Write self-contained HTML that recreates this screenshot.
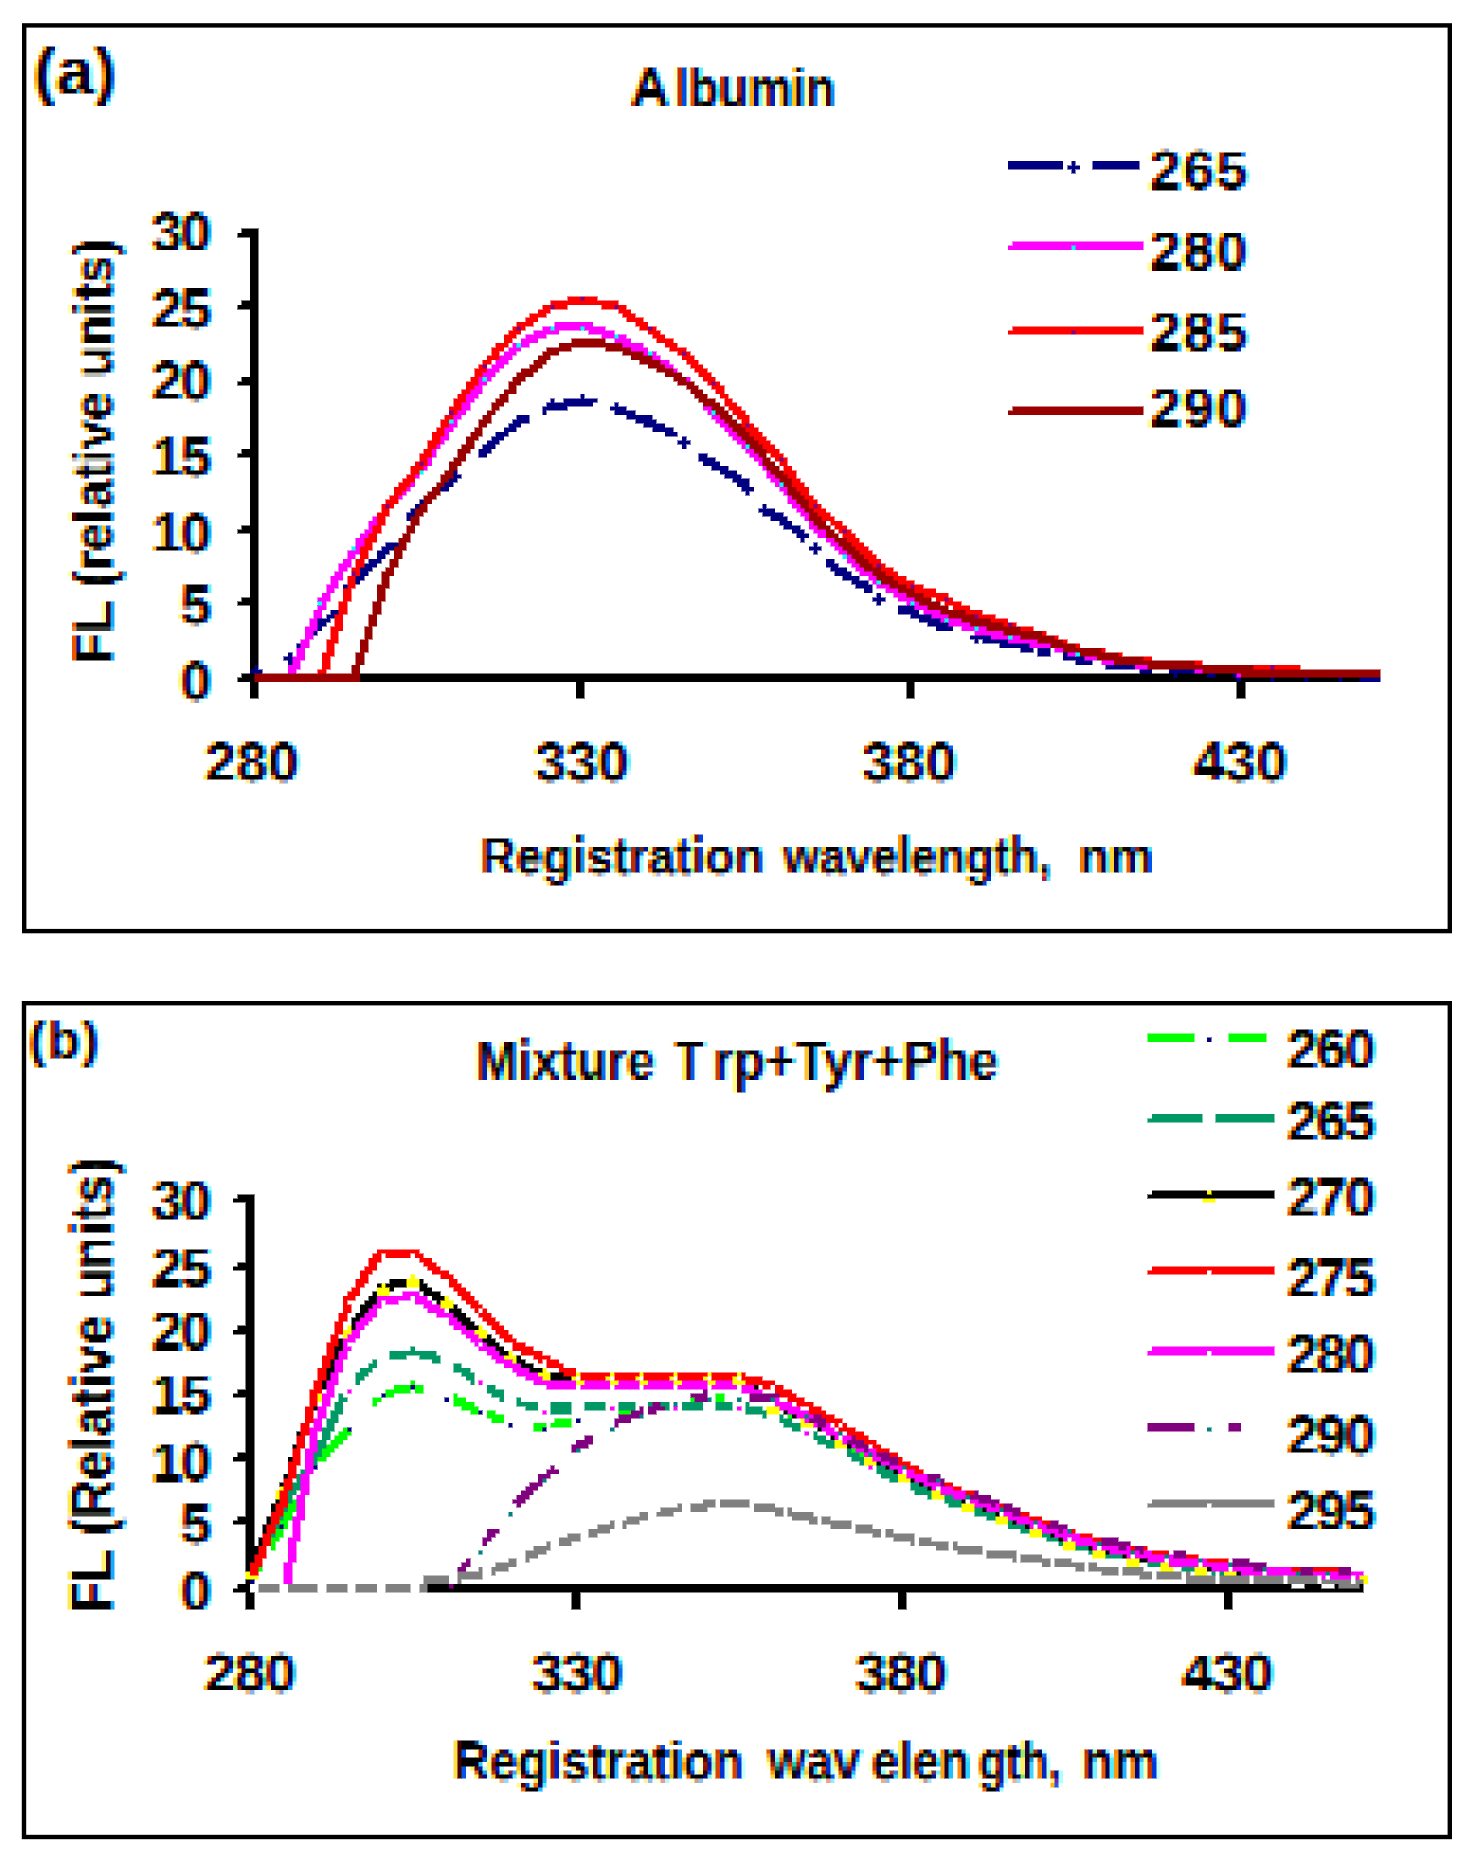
<!DOCTYPE html>
<html><head><meta charset="utf-8"><title>Fluorescence spectra: Albumin and Trp+Tyr+Phe mixture</title>
<style>
html,body{margin:0;padding:0;background:#fff;}
body{width:1475px;height:1865px;overflow:hidden;font-family:"Liberation Sans",sans-serif;}
svg{display:block;}
svg text{font-family:"Liberation Sans",sans-serif;font-weight:bold;}
.gfx polyline{fill:none;stroke-linejoin:round;stroke-linecap:butt;}
.ct{isolation:isolate;}
.ct .m{mix-blend-mode:multiply;}
</style></head>
<body>
<svg width="1475" height="1865" viewBox="0 0 1475 1865">
<defs>
<!-- low-resolution raster look: sample one pixel per 4.2353px cell (17 cells per 72px tile) and grow it to fill the cell -->
<filter id="mosaic" filterUnits="userSpaceOnUse" primitiveUnits="userSpaceOnUse" x="0" y="0" width="1475" height="1865" color-interpolation-filters="sRGB">
<feFlood x="2" y="0" width="1" height="72" flood-color="#000" result="v0"/>
<feFlood x="6" y="0" width="1" height="72" flood-color="#000" result="v1"/>
<feFlood x="10" y="0" width="1" height="72" flood-color="#000" result="v2"/>
<feFlood x="14" y="0" width="1" height="72" flood-color="#000" result="v3"/>
<feFlood x="19" y="0" width="1" height="72" flood-color="#000" result="v4"/>
<feFlood x="23" y="0" width="1" height="72" flood-color="#000" result="v5"/>
<feFlood x="27" y="0" width="1" height="72" flood-color="#000" result="v6"/>
<feFlood x="31" y="0" width="1" height="72" flood-color="#000" result="v7"/>
<feFlood x="36" y="0" width="1" height="72" flood-color="#000" result="v8"/>
<feFlood x="40" y="0" width="1" height="72" flood-color="#000" result="v9"/>
<feFlood x="44" y="0" width="1" height="72" flood-color="#000" result="v10"/>
<feFlood x="48" y="0" width="1" height="72" flood-color="#000" result="v11"/>
<feFlood x="52" y="0" width="1" height="72" flood-color="#000" result="v12"/>
<feFlood x="57" y="0" width="1" height="72" flood-color="#000" result="v13"/>
<feFlood x="61" y="0" width="1" height="72" flood-color="#000" result="v14"/>
<feFlood x="65" y="0" width="1" height="72" flood-color="#000" result="v15"/>
<feFlood x="69" y="0" width="1" height="72" flood-color="#000" result="v16"/>
<feMerge result="sx"><feMergeNode in="v0"/><feMergeNode in="v1"/><feMergeNode in="v2"/><feMergeNode in="v3"/><feMergeNode in="v4"/><feMergeNode in="v5"/><feMergeNode in="v6"/><feMergeNode in="v7"/><feMergeNode in="v8"/><feMergeNode in="v9"/><feMergeNode in="v10"/><feMergeNode in="v11"/><feMergeNode in="v12"/><feMergeNode in="v13"/><feMergeNode in="v14"/><feMergeNode in="v15"/><feMergeNode in="v16"/></feMerge>
<feFlood x="0" y="2" width="72" height="1" flood-color="#000" result="h0"/>
<feFlood x="0" y="6" width="72" height="1" flood-color="#000" result="h1"/>
<feFlood x="0" y="10" width="72" height="1" flood-color="#000" result="h2"/>
<feFlood x="0" y="14" width="72" height="1" flood-color="#000" result="h3"/>
<feFlood x="0" y="19" width="72" height="1" flood-color="#000" result="h4"/>
<feFlood x="0" y="23" width="72" height="1" flood-color="#000" result="h5"/>
<feFlood x="0" y="27" width="72" height="1" flood-color="#000" result="h6"/>
<feFlood x="0" y="31" width="72" height="1" flood-color="#000" result="h7"/>
<feFlood x="0" y="36" width="72" height="1" flood-color="#000" result="h8"/>
<feFlood x="0" y="40" width="72" height="1" flood-color="#000" result="h9"/>
<feFlood x="0" y="44" width="72" height="1" flood-color="#000" result="h10"/>
<feFlood x="0" y="48" width="72" height="1" flood-color="#000" result="h11"/>
<feFlood x="0" y="52" width="72" height="1" flood-color="#000" result="h12"/>
<feFlood x="0" y="57" width="72" height="1" flood-color="#000" result="h13"/>
<feFlood x="0" y="61" width="72" height="1" flood-color="#000" result="h14"/>
<feFlood x="0" y="65" width="72" height="1" flood-color="#000" result="h15"/>
<feFlood x="0" y="69" width="72" height="1" flood-color="#000" result="h16"/>
<feMerge result="sy"><feMergeNode in="h0"/><feMergeNode in="h1"/><feMergeNode in="h2"/><feMergeNode in="h3"/><feMergeNode in="h4"/><feMergeNode in="h5"/><feMergeNode in="h6"/><feMergeNode in="h7"/><feMergeNode in="h8"/><feMergeNode in="h9"/><feMergeNode in="h10"/><feMergeNode in="h11"/><feMergeNode in="h12"/><feMergeNode in="h13"/><feMergeNode in="h14"/><feMergeNode in="h15"/><feMergeNode in="h16"/></feMerge>
<feComposite in="sx" in2="sy" operator="in" x="0" y="0" width="72" height="72" result="dots"/>
<feTile in="dots" result="grid"/>
<feComposite in="SourceGraphic" in2="grid" operator="in" result="samples"/>
<feMorphology in="samples" operator="dilate" radius="2" result="lightWins"/>
<feComponentTransfer in="samples" result="inv"><feFuncR type="table" tableValues="1 0"/><feFuncG type="table" tableValues="1 0"/><feFuncB type="table" tableValues="1 0"/></feComponentTransfer>
<feMorphology in="inv" operator="dilate" radius="2" result="invGrown"/>
<feComponentTransfer in="invGrown" result="darkWins"><feFuncR type="table" tableValues="1 0"/><feFuncG type="table" tableValues="1 0"/><feFuncB type="table" tableValues="1 0"/></feComponentTransfer>
<feComposite in="lightWins" in2="darkWins" operator="arithmetic" k1="0" k2="0.5" k3="0.5" k4="0"/>
</filter>
<filter id="soft" filterUnits="userSpaceOnUse" x="0" y="0" width="1475" height="1865" color-interpolation-filters="sRGB">
<feGaussianBlur stdDeviation="0.9 0.6"/>
</filter>
<g id="labels">
<text x="1149.8" y="189.2" font-size="56" textLength="97.5" lengthAdjust="spacing">265</text>
<text x="1149.8" y="269.5" font-size="56" textLength="97.5" lengthAdjust="spacing">280</text>
<text x="1149.8" y="350.5" font-size="56" textLength="97.5" lengthAdjust="spacing">285</text>
<text x="1149.8" y="427" font-size="56" textLength="97.5" lengthAdjust="spacing">290</text>
<text x="33.5" y="93.8" font-size="67.5" textLength="83" lengthAdjust="spacing">(a)</text>
<text x="630" y="107.2" font-size="55.5">A</text>
<text x="675" y="107.2" font-size="55.5" textLength="160.5" lengthAdjust="spacingAndGlyphs">lbumin</text>
<text x="211.5" y="251.2" font-size="56" text-anchor="end" textLength="60" lengthAdjust="spacing">30</text>
<text x="211.5" y="327.5" font-size="56" text-anchor="end" textLength="60" lengthAdjust="spacing">25</text>
<text x="211.5" y="399.5" font-size="56" text-anchor="end" textLength="60" lengthAdjust="spacing">20</text>
<text x="211.5" y="476.2" font-size="56" text-anchor="end" textLength="60" lengthAdjust="spacing">15</text>
<text x="211.5" y="552" font-size="56" text-anchor="end" textLength="60" lengthAdjust="spacing">10</text>
<text x="211.5" y="623.5" font-size="56" text-anchor="end">5</text>
<text x="211.5" y="700" font-size="56" text-anchor="end">0</text>
<text x="204.9" y="781" font-size="56" textLength="94" lengthAdjust="spacing">280</text>
<text x="535.0" y="781" font-size="56" textLength="94" lengthAdjust="spacing">330</text>
<text x="862.3" y="781" font-size="56" textLength="94" lengthAdjust="spacing">380</text>
<text x="1193.3" y="781" font-size="56" textLength="94" lengthAdjust="spacing">430</text>
<text x="480.5" y="874.3" font-size="52" textLength="283.5" lengthAdjust="spacingAndGlyphs">Registration</text>
<text x="783" y="874.3" font-size="52" textLength="268" lengthAdjust="spacingAndGlyphs">wavelength,</text>
<text x="1079" y="874.3" font-size="52" textLength="74" lengthAdjust="spacingAndGlyphs">nm</text>
<text transform="translate(112.3,663.5) rotate(-90)" font-size="55" textLength="425" lengthAdjust="spacingAndGlyphs">FL (relative units)</text>
<text x="1287" y="1067.8" font-size="56" textLength="88.5" lengthAdjust="spacing">260</text>
<text x="1287" y="1139.5" font-size="56" textLength="88.5" lengthAdjust="spacing">265</text>
<text x="1287" y="1215.8" font-size="56" textLength="88.5" lengthAdjust="spacing">270</text>
<text x="1287" y="1296.7" font-size="56" textLength="88.5" lengthAdjust="spacing">275</text>
<text x="1287" y="1373" font-size="56" textLength="88.5" lengthAdjust="spacing">280</text>
<text x="1287" y="1453.7" font-size="56" textLength="88.5" lengthAdjust="spacing">290</text>
<text x="1287" y="1530" font-size="56" textLength="88.5" lengthAdjust="spacing">295</text>
<text x="28.5" y="1057.6" font-size="53.5" textLength="70.5" lengthAdjust="spacing">(b)</text>
<text x="476" y="1079.3" font-size="55" textLength="178.5" lengthAdjust="spacingAndGlyphs">Mixture</text>
<text x="675" y="1079.3" font-size="55" textLength="29" lengthAdjust="spacingAndGlyphs">T</text>
<text x="713" y="1079.3" font-size="55" textLength="285" lengthAdjust="spacingAndGlyphs">rp+Tyr+Phe</text>
<text x="211.5" y="1220" font-size="56" text-anchor="end" textLength="60" lengthAdjust="spacing">30</text>
<text x="211.5" y="1287.4" font-size="56" text-anchor="end" textLength="60" lengthAdjust="spacing">25</text>
<text x="211.5" y="1350.4" font-size="56" text-anchor="end" textLength="60" lengthAdjust="spacing">20</text>
<text x="211.5" y="1413.4" font-size="56" text-anchor="end" textLength="60" lengthAdjust="spacing">15</text>
<text x="211.5" y="1480.6" font-size="56" text-anchor="end" textLength="60" lengthAdjust="spacing">10</text>
<text x="211.5" y="1543" font-size="56" text-anchor="end">5</text>
<text x="211.5" y="1610.2" font-size="56" text-anchor="end">0</text>
<text x="204.3" y="1691.6" font-size="56" textLength="91.5" lengthAdjust="spacing">280</text>
<text x="531.7" y="1691.6" font-size="56" textLength="91.5" lengthAdjust="spacing">330</text>
<text x="855.6" y="1691.6" font-size="56" textLength="91.5" lengthAdjust="spacing">380</text>
<text x="1182" y="1691.6" font-size="56" textLength="91.5" lengthAdjust="spacing">430</text>
<text x="453.5" y="1780" font-size="55" textLength="290" lengthAdjust="spacingAndGlyphs">Registration</text>
<text x="768" y="1780" font-size="55" textLength="92" lengthAdjust="spacingAndGlyphs">wav</text>
<text x="871.5" y="1780" font-size="55" textLength="98" lengthAdjust="spacingAndGlyphs">elen</text>
<text x="978.5" y="1780" font-size="55" textLength="82.5" lengthAdjust="spacingAndGlyphs">gth,</text>
<text x="1082" y="1780" font-size="55" textLength="76.5" lengthAdjust="spacingAndGlyphs">nm</text>
<text transform="translate(112,1614) rotate(-90)" font-size="60" textLength="457" lengthAdjust="spacingAndGlyphs">FL (Relative units)</text>
</g>
</defs>
<rect x="0" y="0" width="1475" height="1865" fill="#fff"/>
<g filter="url(#mosaic)">
<rect x="0" y="0" width="1475" height="1865" fill="#fff"/>
<g class="gfx" shape-rendering="crispEdges">
<!-- panel a axes -->
<rect x="249.88" y="228.71" width="8.47" height="470.12" fill="#000"/>
<rect x="249.88" y="673.41" width="1126.59" height="8.47" fill="#000"/>
<rect x="237.18" y="228.71" width="12.71" height="8.47" fill="#000"/>
<rect x="237.18" y="228.71" width="4.24" height="4.24" fill="#fff"/>
<rect x="237.18" y="300.71" width="12.71" height="8.47" fill="#000"/>
<rect x="237.18" y="300.71" width="4.24" height="4.24" fill="#fff"/>
<rect x="237.18" y="376.94" width="12.71" height="8.47" fill="#000"/>
<rect x="237.18" y="376.94" width="4.24" height="4.24" fill="#fff"/>
<rect x="237.18" y="448.94" width="12.71" height="8.47" fill="#000"/>
<rect x="237.18" y="448.94" width="4.24" height="4.24" fill="#fff"/>
<rect x="237.18" y="525.18" width="12.71" height="8.47" fill="#000"/>
<rect x="237.18" y="525.18" width="4.24" height="4.24" fill="#fff"/>
<rect x="237.18" y="597.18" width="12.71" height="8.47" fill="#000"/>
<rect x="237.18" y="597.18" width="4.24" height="4.24" fill="#fff"/>
<rect x="237.18" y="673.41" width="12.71" height="8.47" fill="#000"/>
<rect x="237.18" y="673.41" width="4.24" height="4.24" fill="#fff"/>
<rect x="576.00" y="681.88" width="8.47" height="16.94" fill="#000"/>
<rect x="906.35" y="681.88" width="8.47" height="16.94" fill="#000"/>
<rect x="1236.71" y="681.88" width="8.47" height="16.94" fill="#000"/>
<!-- series 265 (a) -->
<polyline points="296.0,650.1 320.0,627.0 332.0,615.0 335.0,610.3" stroke="#000080" stroke-width="8.47"/>
<polyline points="344.4,595.5 348.5,589.0 389.0,548.5 393.2,541.9" stroke="#000080" stroke-width="8.47"/>
<polyline points="408.0,518.6 428.0,501.5" stroke="#000080" stroke-width="8.47"/>
<polyline points="440.7,490.7 454.0,479.3 459.7,473.7" stroke="#000080" stroke-width="8.47"/>
<polyline points="478.6,455.4 519.3,421.0 527.5,417.2" stroke="#000080" stroke-width="8.47"/>
<polyline points="542.4,410.4 552.0,406.0 584.4,402.0 595.3,404.4" stroke="#000080" stroke-width="8.47"/>
<polyline points="619.7,409.9 620.0,410.0 671.5,433.2 675.6,436.2" stroke="#000080" stroke-width="8.47"/>
<polyline points="700.0,455.2 701.4,456.3 744.7,483.4 747.5,487.5" stroke="#000080" stroke-width="8.47"/>
<polyline points="762.4,507.5 763.7,509.2 804.4,536.3 805.8,538.4" stroke="#000080" stroke-width="8.47"/>
<polyline points="824.7,560.7 826.0,562.0 869.5,589.2 872.2,591.6" stroke="#000080" stroke-width="8.47"/>
<polyline points="896.6,606.8 899.3,608.1 942.7,625.8 953.6,629.0" stroke="#000080" stroke-width="8.47"/>
<polyline points="972.5,634.5 975.3,635.3 1010.5,643.4 1035.0,649.3" stroke="#000080" stroke-width="8.47"/>
<polyline points="1040.0,650.5 1046.0,652.0 1051.0,653.0" stroke="#000080" stroke-width="8.47"/>
<polyline points="1062.0,655.2 1081.0,659.0 1092.0,660.9" stroke="#000080" stroke-width="8.47"/>
<polyline points="1108.0,663.6 1116.0,665.0 1146.0,668.0 1150.0,668.2" stroke="#000080" stroke-width="8.47"/>
<polyline points="1173.0,669.5 1211.0,671.5 1215.0,671.8" stroke="#000080" stroke-width="8.47"/>
<polyline points="1240.0,673.7 1244.0,674.0 1290.0,674.5" stroke="#000080" stroke-width="8.47"/>
<polyline points="1315.0,674.8 1379.0,675.5" stroke="#000080" stroke-width="8.47"/>
<rect x="249.88" y="669.18" width="12.71" height="4.24" fill="#000080"/><rect x="254.12" y="664.94" width="4.24" height="12.71" fill="#000080"/>
<rect x="283.76" y="656.47" width="12.71" height="4.24" fill="#000080"/><rect x="288.00" y="652.24" width="4.24" height="12.71" fill="#000080"/>
<rect x="313.41" y="622.59" width="12.71" height="4.24" fill="#000080"/><rect x="317.65" y="618.35" width="4.24" height="12.71" fill="#000080"/>
<rect x="347.29" y="580.24" width="12.71" height="4.24" fill="#000080"/><rect x="351.53" y="576.00" width="4.24" height="12.71" fill="#000080"/>
<rect x="381.18" y="546.35" width="12.71" height="4.24" fill="#000080"/><rect x="385.41" y="542.12" width="4.24" height="12.71" fill="#000080"/>
<rect x="415.06" y="508.24" width="12.71" height="4.24" fill="#000080"/><rect x="419.29" y="504.00" width="4.24" height="12.71" fill="#000080"/>
<rect x="444.71" y="478.59" width="12.71" height="4.24" fill="#000080"/><rect x="448.94" y="474.35" width="4.24" height="12.71" fill="#000080"/>
<rect x="478.59" y="448.94" width="12.71" height="4.24" fill="#000080"/><rect x="482.82" y="444.71" width="4.24" height="12.71" fill="#000080"/>
<rect x="512.47" y="419.29" width="12.71" height="4.24" fill="#000080"/><rect x="516.71" y="415.06" width="4.24" height="12.71" fill="#000080"/>
<rect x="546.35" y="402.35" width="12.71" height="4.24" fill="#000080"/><rect x="550.59" y="398.12" width="4.24" height="12.71" fill="#000080"/>
<rect x="576.00" y="398.12" width="12.71" height="4.24" fill="#000080"/><rect x="580.24" y="393.88" width="4.24" height="12.71" fill="#000080"/>
<rect x="609.88" y="406.59" width="12.71" height="4.24" fill="#000080"/><rect x="614.12" y="402.35" width="4.24" height="12.71" fill="#000080"/>
<rect x="643.76" y="419.29" width="12.71" height="4.24" fill="#000080"/><rect x="648.00" y="415.06" width="4.24" height="12.71" fill="#000080"/>
<rect x="677.65" y="440.47" width="12.71" height="4.24" fill="#000080"/><rect x="681.88" y="436.24" width="4.24" height="12.71" fill="#000080"/>
<rect x="707.29" y="461.65" width="12.71" height="4.24" fill="#000080"/><rect x="711.53" y="457.41" width="4.24" height="12.71" fill="#000080"/>
<rect x="741.18" y="487.06" width="12.71" height="4.24" fill="#000080"/><rect x="745.41" y="482.82" width="4.24" height="12.71" fill="#000080"/>
<rect x="775.06" y="516.71" width="12.71" height="4.24" fill="#000080"/><rect x="779.29" y="512.47" width="4.24" height="12.71" fill="#000080"/>
<rect x="808.94" y="546.35" width="12.71" height="4.24" fill="#000080"/><rect x="813.18" y="542.12" width="4.24" height="12.71" fill="#000080"/>
<rect x="838.59" y="571.76" width="12.71" height="4.24" fill="#000080"/><rect x="842.82" y="567.53" width="4.24" height="12.71" fill="#000080"/>
<rect x="872.47" y="597.18" width="12.71" height="4.24" fill="#000080"/><rect x="876.71" y="592.94" width="4.24" height="12.71" fill="#000080"/>
<rect x="906.35" y="609.88" width="12.71" height="4.24" fill="#000080"/><rect x="910.59" y="605.65" width="4.24" height="12.71" fill="#000080"/>
<rect x="940.24" y="622.59" width="12.71" height="4.24" fill="#000080"/><rect x="944.47" y="618.35" width="4.24" height="12.71" fill="#000080"/>
<rect x="969.88" y="635.29" width="12.71" height="4.24" fill="#000080"/><rect x="974.12" y="631.06" width="4.24" height="12.71" fill="#000080"/>
<rect x="1003.76" y="639.53" width="12.71" height="4.24" fill="#000080"/><rect x="1008.00" y="635.29" width="4.24" height="12.71" fill="#000080"/>
<rect x="1037.65" y="648.00" width="12.71" height="4.24" fill="#000080"/><rect x="1041.88" y="643.76" width="4.24" height="12.71" fill="#000080"/>
<rect x="1071.53" y="656.47" width="12.71" height="4.24" fill="#000080"/><rect x="1075.76" y="652.24" width="4.24" height="12.71" fill="#000080"/>
<rect x="1101.18" y="660.71" width="12.71" height="4.24" fill="#000080"/><rect x="1105.41" y="656.47" width="4.24" height="12.71" fill="#000080"/>
<rect x="1135.06" y="664.94" width="12.71" height="4.24" fill="#000080"/><rect x="1139.29" y="660.71" width="4.24" height="12.71" fill="#000080"/>
<rect x="1168.94" y="669.18" width="12.71" height="4.24" fill="#000080"/><rect x="1173.18" y="664.94" width="4.24" height="12.71" fill="#000080"/>
<rect x="1202.82" y="669.18" width="12.71" height="4.24" fill="#000080"/><rect x="1207.06" y="664.94" width="4.24" height="12.71" fill="#000080"/>
<rect x="1232.47" y="673.41" width="12.71" height="4.24" fill="#000080"/><rect x="1236.71" y="669.18" width="4.24" height="12.71" fill="#000080"/>
<rect x="1266.35" y="673.41" width="12.71" height="4.24" fill="#000080"/><rect x="1270.59" y="669.18" width="4.24" height="12.71" fill="#000080"/>
<rect x="1300.24" y="673.41" width="12.71" height="4.24" fill="#000080"/><rect x="1304.47" y="669.18" width="4.24" height="12.71" fill="#000080"/>
<rect x="1334.12" y="673.41" width="12.71" height="4.24" fill="#000080"/><rect x="1338.35" y="669.18" width="4.24" height="12.71" fill="#000080"/>
<rect x="1363.76" y="673.41" width="12.71" height="4.24" fill="#000080"/><rect x="1368.00" y="669.18" width="4.24" height="12.71" fill="#000080"/>
<!-- series 280 (a) -->
<polyline points="290.2,677.0 321.6,604.2 354.4,550.4 387.2,507.9 420.0,470.8 452.8,423.0 485.6,378.7 518.4,345.9 551.2,329.1 584.0,326.1 616.8,337.3 649.6,354.1 682.4,378.7 715.2,413.2 748.0,446.5 780.8,484.4 813.6,524.7 846.4,555.5 879.2,582.9 912.0,602.3 944.8,618.7 977.6,630.4 1010.4,637.8 1043.2,643.5 1076.0,652.6 1108.8,659.6 1141.6,663.8 1174.4,666.1 1207.2,668.0 1240.0,671.8 1272.8,672.6 1305.6,672.9 1338.4,673.2 1371.2,673.5 1379.7,673.6" stroke="#ff00ff" stroke-width="8.47"/>
<rect x="317.65" y="601.41" width="4.24" height="4.24" fill="#00ffff"/>
<rect x="351.53" y="546.35" width="4.24" height="4.24" fill="#00ffff"/>
<rect x="385.41" y="504.00" width="4.24" height="4.24" fill="#00ffff"/>
<rect x="419.29" y="470.12" width="4.24" height="4.24" fill="#00ffff"/>
<rect x="448.94" y="419.29" width="4.24" height="4.24" fill="#00ffff"/>
<rect x="482.82" y="376.94" width="4.24" height="4.24" fill="#00ffff"/>
<rect x="516.71" y="343.06" width="4.24" height="4.24" fill="#00ffff"/>
<rect x="550.59" y="326.12" width="4.24" height="4.24" fill="#00ffff"/>
<rect x="580.24" y="326.12" width="4.24" height="4.24" fill="#00ffff"/>
<rect x="614.12" y="334.59" width="4.24" height="4.24" fill="#00ffff"/>
<rect x="648.00" y="351.53" width="4.24" height="4.24" fill="#00ffff"/>
<rect x="681.88" y="376.94" width="4.24" height="4.24" fill="#00ffff"/>
<rect x="711.53" y="410.82" width="4.24" height="4.24" fill="#00ffff"/>
<rect x="745.41" y="444.71" width="4.24" height="4.24" fill="#00ffff"/>
<rect x="779.29" y="482.82" width="4.24" height="4.24" fill="#00ffff"/>
<rect x="813.18" y="520.94" width="4.24" height="4.24" fill="#00ffff"/>
<rect x="842.82" y="554.82" width="4.24" height="4.24" fill="#00ffff"/>
<rect x="876.71" y="580.24" width="4.24" height="4.24" fill="#00ffff"/>
<rect x="910.59" y="601.41" width="4.24" height="4.24" fill="#00ffff"/>
<rect x="944.47" y="618.35" width="4.24" height="4.24" fill="#00ffff"/>
<rect x="974.12" y="626.82" width="4.24" height="4.24" fill="#00ffff"/>
<rect x="1008.00" y="635.29" width="4.24" height="4.24" fill="#00ffff"/>
<rect x="1041.88" y="639.53" width="4.24" height="4.24" fill="#00ffff"/>
<rect x="1075.76" y="652.24" width="4.24" height="4.24" fill="#00ffff"/>
<rect x="1105.41" y="656.47" width="4.24" height="4.24" fill="#00ffff"/>
<rect x="1139.29" y="660.71" width="4.24" height="4.24" fill="#00ffff"/>
<rect x="1173.18" y="664.94" width="4.24" height="4.24" fill="#00ffff"/>
<rect x="1207.06" y="664.94" width="4.24" height="4.24" fill="#00ffff"/>
<rect x="1236.71" y="669.18" width="4.24" height="4.24" fill="#00ffff"/>
<rect x="1270.59" y="669.18" width="4.24" height="4.24" fill="#00ffff"/>
<rect x="1304.47" y="669.18" width="4.24" height="4.24" fill="#00ffff"/>
<rect x="1338.35" y="669.18" width="4.24" height="4.24" fill="#00ffff"/>
<rect x="1368.00" y="673.41" width="4.24" height="4.24" fill="#00ffff"/>
<!-- series 285 (a) -->
<polyline points="321.4,677.3 321.6,676.7 354.4,573.4 387.2,507.6 420.0,465.1 452.8,410.9 485.6,364.5 518.4,328.3 551.2,306.7 584.0,299.6 616.8,306.5 649.6,330.0 682.4,352.7 715.2,384.7 748.0,424.6 780.8,460.1 813.6,504.4 846.4,533.6 879.2,566.4 912.0,586.4 944.8,599.2 977.6,615.4 1010.4,626.6 1043.2,636.2 1076.0,648.6 1108.8,656.0 1141.6,662.1 1174.4,664.8 1207.2,667.0 1240.0,671.0 1272.8,668.0 1305.6,672.3 1338.4,672.6 1371.2,672.9 1379.7,673.0" stroke="#ff0000" stroke-width="8.47"/>
<rect x="351.53" y="571.76" width="4.24" height="4.24" fill="#800080"/>
<rect x="385.41" y="504.00" width="4.24" height="4.24" fill="#800080"/>
<rect x="419.29" y="461.65" width="4.24" height="4.24" fill="#800080"/>
<rect x="448.94" y="410.82" width="4.24" height="4.24" fill="#800080"/>
<rect x="482.82" y="364.24" width="4.24" height="4.24" fill="#800080"/>
<rect x="516.71" y="326.12" width="4.24" height="4.24" fill="#800080"/>
<rect x="550.59" y="304.94" width="4.24" height="4.24" fill="#800080"/>
<rect x="580.24" y="296.47" width="4.24" height="4.24" fill="#800080"/>
<rect x="614.12" y="304.94" width="4.24" height="4.24" fill="#800080"/>
<rect x="648.00" y="326.12" width="4.24" height="4.24" fill="#800080"/>
<rect x="681.88" y="351.53" width="4.24" height="4.24" fill="#800080"/>
<rect x="711.53" y="381.18" width="4.24" height="4.24" fill="#800080"/>
<rect x="745.41" y="423.53" width="4.24" height="4.24" fill="#800080"/>
<rect x="779.29" y="457.41" width="4.24" height="4.24" fill="#800080"/>
<rect x="813.18" y="504.00" width="4.24" height="4.24" fill="#800080"/>
<rect x="842.82" y="529.41" width="4.24" height="4.24" fill="#800080"/>
<rect x="876.71" y="563.29" width="4.24" height="4.24" fill="#800080"/>
<rect x="910.59" y="584.47" width="4.24" height="4.24" fill="#800080"/>
<rect x="944.47" y="597.18" width="4.24" height="4.24" fill="#800080"/>
<rect x="974.12" y="614.12" width="4.24" height="4.24" fill="#800080"/>
<rect x="1008.00" y="622.59" width="4.24" height="4.24" fill="#800080"/>
<rect x="1041.88" y="635.29" width="4.24" height="4.24" fill="#800080"/>
<rect x="1075.76" y="648.00" width="4.24" height="4.24" fill="#800080"/>
<rect x="1105.41" y="652.24" width="4.24" height="4.24" fill="#800080"/>
<rect x="1139.29" y="660.71" width="4.24" height="4.24" fill="#800080"/>
<rect x="1173.18" y="660.71" width="4.24" height="4.24" fill="#800080"/>
<rect x="1207.06" y="664.94" width="4.24" height="4.24" fill="#800080"/>
<rect x="1236.71" y="669.18" width="4.24" height="4.24" fill="#800080"/>
<rect x="1270.59" y="664.94" width="4.24" height="4.24" fill="#800080"/>
<rect x="1304.47" y="669.18" width="4.24" height="4.24" fill="#800080"/>
<rect x="1338.35" y="669.18" width="4.24" height="4.24" fill="#800080"/>
<rect x="1368.00" y="669.18" width="4.24" height="4.24" fill="#800080"/>
<!-- series 290 (a) -->
<polyline points="254.7,677.8 353.9,677.8 354.4,676.1 387.2,575.5 420.0,511.5 452.8,469.0 485.6,420.1 518.4,380.1 551.2,352.4 584.0,341.1 616.8,347.2 649.6,361.4 682.4,380.3 715.2,407.2 748.0,438.4 780.8,476.3 813.6,516.2 846.4,547.0 879.2,575.3 912.0,594.1 944.8,610.5 977.6,621.8 1010.4,630.9 1043.2,638.6 1076.0,649.8 1108.8,656.8 1141.6,662.8 1174.4,665.5 1207.2,667.5 1240.0,671.4 1272.8,672.2 1305.6,672.5 1338.4,672.8 1371.2,673.1 1379.7,673.2" stroke="#990000" stroke-width="8.47"/>
<!-- legend (a) -->
<rect x="1008.00" y="160.94" width="55.06" height="8.47" fill="#000080"/>
<rect x="1092.71" y="160.94" width="46.59" height="8.47" fill="#000080"/>
<rect x="1067.29" y="165.18" width="12.71" height="4.24" fill="#000080"/><rect x="1071.53" y="160.94" width="4.24" height="12.71" fill="#000080"/>
<rect x="1008.00" y="241.41" width="135.53" height="8.47" fill="#ff00ff"/>
<rect x="1008.00" y="241.41" width="4.24" height="4.24" fill="#fff"/>
<rect x="1071.53" y="245.65" width="4.24" height="4.24" fill="#00ffff"/>
<rect x="1008.00" y="326.12" width="135.53" height="8.47" fill="#ff0000"/>
<rect x="1008.00" y="326.12" width="4.24" height="4.24" fill="#fff"/>
<rect x="1071.53" y="330.35" width="4.24" height="4.24" fill="#800080"/>
<rect x="1008.00" y="406.59" width="135.53" height="8.47" fill="#990000"/>
<rect x="1008.00" y="406.59" width="4.24" height="4.24" fill="#fff"/>
<!-- panel b axes -->
<rect x="245.65" y="1194.35" width="8.47" height="415.06" fill="#000"/>
<rect x="245.65" y="1584.00" width="1118.12" height="8.47" fill="#000"/>
<rect x="232.94" y="1194.35" width="12.71" height="8.47" fill="#000"/>
<rect x="232.94" y="1194.35" width="4.24" height="4.24" fill="#fff"/>
<rect x="232.94" y="1262.12" width="12.71" height="8.47" fill="#000"/>
<rect x="232.94" y="1262.12" width="4.24" height="4.24" fill="#fff"/>
<rect x="232.94" y="1325.65" width="12.71" height="8.47" fill="#000"/>
<rect x="232.94" y="1325.65" width="4.24" height="4.24" fill="#fff"/>
<rect x="232.94" y="1389.18" width="12.71" height="8.47" fill="#000"/>
<rect x="232.94" y="1389.18" width="4.24" height="4.24" fill="#fff"/>
<rect x="232.94" y="1452.71" width="12.71" height="8.47" fill="#000"/>
<rect x="232.94" y="1452.71" width="4.24" height="4.24" fill="#fff"/>
<rect x="232.94" y="1516.24" width="12.71" height="8.47" fill="#000"/>
<rect x="232.94" y="1516.24" width="4.24" height="4.24" fill="#fff"/>
<rect x="232.94" y="1584.00" width="12.71" height="8.47" fill="#000"/>
<rect x="232.94" y="1584.00" width="4.24" height="4.24" fill="#fff"/>
<rect x="571.76" y="1592.47" width="8.47" height="16.94" fill="#000"/>
<rect x="897.88" y="1592.47" width="8.47" height="16.94" fill="#000"/>
<rect x="1224.00" y="1592.47" width="8.47" height="16.94" fill="#000"/>
<!-- series 260 (b) -->
<polyline points="252.0,1576.6 262.0,1560.0" stroke="#00ff00" stroke-width="8.47"/>
<polyline points="270.0,1546.7 283.1,1525.0 296.0,1501.6" stroke="#00ff00" stroke-width="8.47"/>
<polyline points="318.6,1462.5 348.5,1428.8" stroke="#00ff00" stroke-width="8.47"/>
<polyline points="371.5,1404.9 380.0,1396.1" stroke="#00ff00" stroke-width="8.47"/>
<polyline points="386.4,1393.5 413.9,1386.3 424.4,1389.3" stroke="#00ff00" stroke-width="8.47"/>
<polyline points="452.9,1398.8 478.6,1411.2" stroke="#00ff00" stroke-width="8.47"/>
<polyline points="488.0,1414.7 505.8,1421.2" stroke="#00ff00" stroke-width="8.47"/>
<polyline points="532.9,1425.4 544.7,1426.5 545.0,1426.5" stroke="#00ff00" stroke-width="8.47"/>
<polyline points="551.9,1425.2 573.6,1421.1" stroke="#00ff00" stroke-width="8.47"/>
<polyline points="618.3,1411.3 630.0,1408.7" stroke="#00ff00" stroke-width="8.47"/>
<polyline points="689.0,1399.6 694.0,1399.2" stroke="#00ff00" stroke-width="8.47"/>
<polyline points="712.0,1398.4 726.0,1398.9" stroke="#00ff00" stroke-width="8.47"/>
<polyline points="787.0,1416.9 793.0,1420.5" stroke="#00ff00" stroke-width="8.47"/>
<polyline points="840.0,1446.5 870.0,1461.8" stroke="#00ff00" stroke-width="8.47"/>
<polyline points="905.0,1479.6 935.0,1492.6" stroke="#00ff00" stroke-width="8.47"/>
<polyline points="970.0,1505.4 1000.0,1516.2" stroke="#00ff00" stroke-width="8.47"/>
<polyline points="1035.0,1529.0 1035.2,1529.1 1065.0,1539.1" stroke="#00ff00" stroke-width="8.47"/>
<polyline points="1100.0,1549.6 1100.6,1549.8 1130.0,1556.0" stroke="#00ff00" stroke-width="8.47"/>
<polyline points="1165.0,1562.3 1166.0,1562.5 1195.0,1566.2" stroke="#00ff00" stroke-width="8.47"/>
<polyline points="1230.0,1570.4 1231.4,1570.6 1260.0,1573.8" stroke="#00ff00" stroke-width="8.47"/>
<polyline points="1295.0,1576.3 1296.8,1576.4 1325.0,1577.9" stroke="#00ff00" stroke-width="8.47"/>
<rect x="249.88" y="1579.76" width="4.24" height="4.24" fill="#000080"/>
<rect x="279.53" y="1524.71" width="4.24" height="4.24" fill="#000080"/>
<rect x="313.41" y="1465.41" width="4.24" height="4.24" fill="#000080"/>
<rect x="347.29" y="1427.29" width="4.24" height="4.24" fill="#000080"/>
<rect x="381.18" y="1393.41" width="4.24" height="4.24" fill="#000080"/>
<rect x="410.82" y="1384.94" width="4.24" height="4.24" fill="#000080"/>
<rect x="444.71" y="1397.65" width="4.24" height="4.24" fill="#000080"/>
<rect x="478.59" y="1410.35" width="4.24" height="4.24" fill="#000080"/>
<rect x="508.24" y="1423.06" width="4.24" height="4.24" fill="#000080"/>
<rect x="542.12" y="1427.29" width="4.24" height="4.24" fill="#000080"/>
<rect x="576.00" y="1418.82" width="4.24" height="4.24" fill="#000080"/>
<rect x="609.88" y="1414.59" width="4.24" height="4.24" fill="#000080"/>
<rect x="639.53" y="1406.12" width="4.24" height="4.24" fill="#000080"/>
<rect x="673.41" y="1401.88" width="4.24" height="4.24" fill="#000080"/>
<rect x="707.29" y="1397.65" width="4.24" height="4.24" fill="#000080"/>
<rect x="736.94" y="1397.65" width="4.24" height="4.24" fill="#000080"/>
<rect x="770.82" y="1410.35" width="4.24" height="4.24" fill="#000080"/>
<rect x="804.71" y="1427.29" width="4.24" height="4.24" fill="#000080"/>
<rect x="838.59" y="1444.24" width="4.24" height="4.24" fill="#000080"/>
<rect x="868.24" y="1461.18" width="4.24" height="4.24" fill="#000080"/>
<rect x="902.12" y="1478.12" width="4.24" height="4.24" fill="#000080"/>
<rect x="936.00" y="1495.06" width="4.24" height="4.24" fill="#000080"/>
<rect x="965.65" y="1503.53" width="4.24" height="4.24" fill="#000080"/>
<rect x="999.53" y="1516.24" width="4.24" height="4.24" fill="#000080"/>
<rect x="1033.41" y="1528.94" width="4.24" height="4.24" fill="#000080"/>
<rect x="1067.29" y="1541.65" width="4.24" height="4.24" fill="#000080"/>
<rect x="1096.94" y="1550.12" width="4.24" height="4.24" fill="#000080"/>
<rect x="1130.82" y="1558.59" width="4.24" height="4.24" fill="#000080"/>
<rect x="1164.71" y="1562.82" width="4.24" height="4.24" fill="#000080"/>
<rect x="1198.59" y="1567.06" width="4.24" height="4.24" fill="#000080"/>
<rect x="1228.24" y="1571.29" width="4.24" height="4.24" fill="#000080"/>
<rect x="1262.12" y="1575.53" width="4.24" height="4.24" fill="#000080"/>
<rect x="1296.00" y="1575.53" width="4.24" height="4.24" fill="#000080"/>
<rect x="1325.65" y="1579.76" width="4.24" height="4.24" fill="#000080"/>
<!-- series 265 (b) -->
<polyline points="250.4,1574.1 283.1,1505.9 315.8,1456.3 348.5,1388.5 381.2,1358.1 413.9,1352.0 446.6,1360.6 479.3,1382.8 512.0,1401.5 544.7,1408.5 577.4,1408.5 610.1,1406.9 642.8,1404.4 675.5,1404.4 708.2,1404.4 740.9,1406.3 773.6,1415.9 806.3,1431.3 839.0,1448.9 871.7,1466.0 904.4,1482.9 937.1,1496.7 969.8,1508.0 1002.5,1520.4 1035.2,1531.8 1067.9,1541.9 1100.6,1550.9 1133.3,1557.7 1166.0,1563.5 1198.7,1567.7 1231.4,1571.6 1264.1,1575.2 1296.8,1577.4 1329.5,1579.1 1361.5,1580.0" stroke="#009966" stroke-width="8.47"/>
<rect x="343.06" y="1376.47" width="12.71" height="21.18" fill="#ffffff"/>
<rect x="347.29" y="1389.18" width="4.24" height="4.24" fill="#ff00ff"/>
<rect x="376.94" y="1346.82" width="12.71" height="21.18" fill="#ffffff"/>
<rect x="440.47" y="1351.06" width="12.71" height="21.18" fill="#ffffff"/>
<rect x="474.35" y="1372.24" width="12.71" height="21.18" fill="#ffffff"/>
<rect x="478.59" y="1380.71" width="4.24" height="4.24" fill="#ff00ff"/>
<rect x="504.00" y="1389.18" width="12.71" height="21.18" fill="#ffffff"/>
<rect x="537.88" y="1397.65" width="12.71" height="21.18" fill="#ffffff"/>
<rect x="542.12" y="1410.35" width="4.24" height="4.24" fill="#ff00ff"/>
<rect x="571.76" y="1397.65" width="12.71" height="21.18" fill="#ffffff"/>
<rect x="605.65" y="1397.65" width="12.71" height="21.18" fill="#ffffff"/>
<rect x="609.88" y="1406.12" width="4.24" height="4.24" fill="#ff00ff"/>
<rect x="635.29" y="1393.41" width="12.71" height="21.18" fill="#ffffff"/>
<rect x="669.18" y="1393.41" width="12.71" height="21.18" fill="#ffffff"/>
<rect x="673.41" y="1406.12" width="4.24" height="4.24" fill="#ff00ff"/>
<rect x="703.06" y="1393.41" width="12.71" height="21.18" fill="#ffffff"/>
<rect x="732.71" y="1397.65" width="12.71" height="21.18" fill="#ffffff"/>
<rect x="736.94" y="1406.12" width="4.24" height="4.24" fill="#ff00ff"/>
<rect x="766.59" y="1406.12" width="12.71" height="21.18" fill="#ffffff"/>
<rect x="800.47" y="1418.82" width="12.71" height="21.18" fill="#ffffff"/>
<rect x="804.71" y="1431.53" width="4.24" height="4.24" fill="#ff00ff"/>
<rect x="834.35" y="1440.00" width="12.71" height="21.18" fill="#ffffff"/>
<rect x="864.00" y="1456.94" width="12.71" height="21.18" fill="#ffffff"/>
<rect x="868.24" y="1465.41" width="4.24" height="4.24" fill="#ff00ff"/>
<rect x="897.88" y="1473.88" width="12.71" height="21.18" fill="#ffffff"/>
<rect x="931.76" y="1486.59" width="12.71" height="21.18" fill="#ffffff"/>
<rect x="936.00" y="1495.06" width="4.24" height="4.24" fill="#ff00ff"/>
<rect x="961.41" y="1499.29" width="12.71" height="21.18" fill="#ffffff"/>
<rect x="995.29" y="1507.76" width="12.71" height="21.18" fill="#ffffff"/>
<rect x="999.53" y="1520.47" width="4.24" height="4.24" fill="#ff00ff"/>
<rect x="1029.18" y="1520.47" width="12.71" height="21.18" fill="#ffffff"/>
<rect x="1063.06" y="1533.18" width="12.71" height="21.18" fill="#ffffff"/>
<rect x="1067.29" y="1541.65" width="4.24" height="4.24" fill="#ff00ff"/>
<rect x="1092.71" y="1541.65" width="12.71" height="21.18" fill="#ffffff"/>
<rect x="1126.59" y="1545.88" width="12.71" height="21.18" fill="#ffffff"/>
<rect x="1130.82" y="1558.59" width="4.24" height="4.24" fill="#ff00ff"/>
<rect x="1160.47" y="1554.35" width="12.71" height="21.18" fill="#ffffff"/>
<rect x="1194.35" y="1558.59" width="12.71" height="21.18" fill="#ffffff"/>
<rect x="1198.59" y="1567.06" width="4.24" height="4.24" fill="#ff00ff"/>
<rect x="1224.00" y="1562.82" width="12.71" height="21.18" fill="#ffffff"/>
<rect x="1257.88" y="1562.82" width="12.71" height="21.18" fill="#ffffff"/>
<rect x="1262.12" y="1575.53" width="4.24" height="4.24" fill="#ff00ff"/>
<rect x="1291.76" y="1567.06" width="12.71" height="21.18" fill="#ffffff"/>
<rect x="1321.41" y="1567.06" width="12.71" height="21.18" fill="#ffffff"/>
<rect x="1325.65" y="1579.76" width="4.24" height="4.24" fill="#ff00ff"/>
<!-- series 270 (b) -->
<polyline points="250.4,1572.1 283.1,1491.8 315.8,1395.9 348.5,1333.2 381.2,1287.7 413.9,1281.2 446.6,1304.2 479.3,1332.0 512.0,1358.7 544.7,1374.9 577.4,1381.6 610.1,1382.0 642.8,1382.0 675.5,1382.0 708.2,1382.0 740.9,1382.0 773.6,1402.4 806.3,1418.1 839.0,1437.5 871.7,1455.1 904.4,1472.8 937.1,1487.6 969.8,1500.6 1002.5,1513.4 1035.2,1526.1 1067.9,1537.8 1100.6,1547.6 1133.3,1554.9 1166.0,1561.2 1198.7,1565.3 1231.4,1569.4 1264.1,1573.5 1296.8,1575.7 1329.5,1577.3 1361.5,1578.5" stroke="#000000" stroke-width="8.47"/>
<rect x="249.88" y="1567.06" width="4.24" height="4.24" fill="#ffff00"/><rect x="245.65" y="1571.29" width="12.71" height="4.24" fill="#ffff00"/><rect x="245.65" y="1575.53" width="12.71" height="4.24" fill="#ffff00"/>
<rect x="279.53" y="1486.59" width="4.24" height="4.24" fill="#ffff00"/><rect x="275.29" y="1490.82" width="12.71" height="4.24" fill="#ffff00"/><rect x="275.29" y="1495.06" width="12.71" height="4.24" fill="#ffff00"/>
<rect x="313.41" y="1389.18" width="4.24" height="4.24" fill="#ffff00"/><rect x="309.18" y="1393.41" width="12.71" height="4.24" fill="#ffff00"/><rect x="309.18" y="1397.65" width="12.71" height="4.24" fill="#ffff00"/>
<rect x="347.29" y="1325.65" width="4.24" height="4.24" fill="#ffff00"/><rect x="343.06" y="1329.88" width="12.71" height="4.24" fill="#ffff00"/><rect x="343.06" y="1334.12" width="12.71" height="4.24" fill="#ffff00"/>
<rect x="381.18" y="1283.29" width="4.24" height="4.24" fill="#ffff00"/><rect x="376.94" y="1287.53" width="12.71" height="4.24" fill="#ffff00"/><rect x="376.94" y="1291.76" width="12.71" height="4.24" fill="#ffff00"/>
<rect x="410.82" y="1274.82" width="4.24" height="4.24" fill="#ffff00"/><rect x="406.59" y="1279.06" width="12.71" height="4.24" fill="#ffff00"/><rect x="406.59" y="1283.29" width="12.71" height="4.24" fill="#ffff00"/>
<rect x="444.71" y="1296.00" width="4.24" height="4.24" fill="#ffff00"/><rect x="440.47" y="1300.24" width="12.71" height="4.24" fill="#ffff00"/><rect x="440.47" y="1304.47" width="12.71" height="4.24" fill="#ffff00"/>
<rect x="478.59" y="1325.65" width="4.24" height="4.24" fill="#ffff00"/><rect x="474.35" y="1329.88" width="12.71" height="4.24" fill="#ffff00"/><rect x="474.35" y="1334.12" width="12.71" height="4.24" fill="#ffff00"/>
<rect x="508.24" y="1351.06" width="4.24" height="4.24" fill="#ffff00"/><rect x="504.00" y="1355.29" width="12.71" height="4.24" fill="#ffff00"/><rect x="504.00" y="1359.53" width="12.71" height="4.24" fill="#ffff00"/>
<rect x="542.12" y="1368.00" width="4.24" height="4.24" fill="#ffff00"/><rect x="537.88" y="1372.24" width="12.71" height="4.24" fill="#ffff00"/><rect x="537.88" y="1376.47" width="12.71" height="4.24" fill="#ffff00"/>
<rect x="576.00" y="1376.47" width="4.24" height="4.24" fill="#ffff00"/><rect x="571.76" y="1380.71" width="12.71" height="4.24" fill="#ffff00"/><rect x="571.76" y="1384.94" width="12.71" height="4.24" fill="#ffff00"/>
<rect x="609.88" y="1376.47" width="4.24" height="4.24" fill="#ffff00"/><rect x="605.65" y="1380.71" width="12.71" height="4.24" fill="#ffff00"/><rect x="605.65" y="1384.94" width="12.71" height="4.24" fill="#ffff00"/>
<rect x="639.53" y="1376.47" width="4.24" height="4.24" fill="#ffff00"/><rect x="635.29" y="1380.71" width="12.71" height="4.24" fill="#ffff00"/><rect x="635.29" y="1384.94" width="12.71" height="4.24" fill="#ffff00"/>
<rect x="673.41" y="1376.47" width="4.24" height="4.24" fill="#ffff00"/><rect x="669.18" y="1380.71" width="12.71" height="4.24" fill="#ffff00"/><rect x="669.18" y="1384.94" width="12.71" height="4.24" fill="#ffff00"/>
<rect x="707.29" y="1376.47" width="4.24" height="4.24" fill="#ffff00"/><rect x="703.06" y="1380.71" width="12.71" height="4.24" fill="#ffff00"/><rect x="703.06" y="1384.94" width="12.71" height="4.24" fill="#ffff00"/>
<rect x="736.94" y="1376.47" width="4.24" height="4.24" fill="#ffff00"/><rect x="732.71" y="1380.71" width="12.71" height="4.24" fill="#ffff00"/><rect x="732.71" y="1384.94" width="12.71" height="4.24" fill="#ffff00"/>
<rect x="770.82" y="1401.88" width="4.24" height="4.24" fill="#ffff00"/><rect x="766.59" y="1406.12" width="12.71" height="4.24" fill="#ffff00"/><rect x="766.59" y="1410.35" width="12.71" height="4.24" fill="#ffff00"/>
<rect x="804.71" y="1414.59" width="4.24" height="4.24" fill="#ffff00"/><rect x="800.47" y="1418.82" width="12.71" height="4.24" fill="#ffff00"/><rect x="800.47" y="1423.06" width="12.71" height="4.24" fill="#ffff00"/>
<rect x="838.59" y="1435.76" width="4.24" height="4.24" fill="#ffff00"/><rect x="834.35" y="1440.00" width="12.71" height="4.24" fill="#ffff00"/><rect x="834.35" y="1444.24" width="12.71" height="4.24" fill="#ffff00"/>
<rect x="868.24" y="1452.71" width="4.24" height="4.24" fill="#ffff00"/><rect x="864.00" y="1456.94" width="12.71" height="4.24" fill="#ffff00"/><rect x="864.00" y="1461.18" width="12.71" height="4.24" fill="#ffff00"/>
<rect x="902.12" y="1469.65" width="4.24" height="4.24" fill="#ffff00"/><rect x="897.88" y="1473.88" width="12.71" height="4.24" fill="#ffff00"/><rect x="897.88" y="1478.12" width="12.71" height="4.24" fill="#ffff00"/>
<rect x="936.00" y="1486.59" width="4.24" height="4.24" fill="#ffff00"/><rect x="931.76" y="1490.82" width="12.71" height="4.24" fill="#ffff00"/><rect x="931.76" y="1495.06" width="12.71" height="4.24" fill="#ffff00"/>
<rect x="965.65" y="1499.29" width="4.24" height="4.24" fill="#ffff00"/><rect x="961.41" y="1503.53" width="12.71" height="4.24" fill="#ffff00"/><rect x="961.41" y="1507.76" width="12.71" height="4.24" fill="#ffff00"/>
<rect x="999.53" y="1512.00" width="4.24" height="4.24" fill="#ffff00"/><rect x="995.29" y="1516.24" width="12.71" height="4.24" fill="#ffff00"/><rect x="995.29" y="1520.47" width="12.71" height="4.24" fill="#ffff00"/>
<rect x="1033.41" y="1524.71" width="4.24" height="4.24" fill="#ffff00"/><rect x="1029.18" y="1528.94" width="12.71" height="4.24" fill="#ffff00"/><rect x="1029.18" y="1533.18" width="12.71" height="4.24" fill="#ffff00"/>
<rect x="1067.29" y="1537.41" width="4.24" height="4.24" fill="#ffff00"/><rect x="1063.06" y="1541.65" width="12.71" height="4.24" fill="#ffff00"/><rect x="1063.06" y="1545.88" width="12.71" height="4.24" fill="#ffff00"/>
<rect x="1096.94" y="1545.88" width="4.24" height="4.24" fill="#ffff00"/><rect x="1092.71" y="1550.12" width="12.71" height="4.24" fill="#ffff00"/><rect x="1092.71" y="1554.35" width="12.71" height="4.24" fill="#ffff00"/>
<rect x="1130.82" y="1554.35" width="4.24" height="4.24" fill="#ffff00"/><rect x="1126.59" y="1558.59" width="12.71" height="4.24" fill="#ffff00"/><rect x="1126.59" y="1562.82" width="12.71" height="4.24" fill="#ffff00"/>
<rect x="1164.71" y="1558.59" width="4.24" height="4.24" fill="#ffff00"/><rect x="1160.47" y="1562.82" width="12.71" height="4.24" fill="#ffff00"/><rect x="1160.47" y="1567.06" width="12.71" height="4.24" fill="#ffff00"/>
<rect x="1198.59" y="1562.82" width="4.24" height="4.24" fill="#ffff00"/><rect x="1194.35" y="1567.06" width="12.71" height="4.24" fill="#ffff00"/><rect x="1194.35" y="1571.29" width="12.71" height="4.24" fill="#ffff00"/>
<rect x="1228.24" y="1567.06" width="4.24" height="4.24" fill="#ffff00"/><rect x="1224.00" y="1571.29" width="12.71" height="4.24" fill="#ffff00"/><rect x="1224.00" y="1575.53" width="12.71" height="4.24" fill="#ffff00"/>
<rect x="1262.12" y="1567.06" width="4.24" height="4.24" fill="#ffff00"/><rect x="1257.88" y="1571.29" width="12.71" height="4.24" fill="#ffff00"/><rect x="1257.88" y="1575.53" width="12.71" height="4.24" fill="#ffff00"/>
<rect x="1296.00" y="1571.29" width="4.24" height="4.24" fill="#ffff00"/><rect x="1291.76" y="1575.53" width="12.71" height="4.24" fill="#ffff00"/><rect x="1291.76" y="1579.76" width="12.71" height="4.24" fill="#ffff00"/>
<rect x="1325.65" y="1571.29" width="4.24" height="4.24" fill="#ffff00"/><rect x="1321.41" y="1575.53" width="12.71" height="4.24" fill="#ffff00"/><rect x="1321.41" y="1579.76" width="12.71" height="4.24" fill="#ffff00"/>
<rect x="1359.53" y="1571.29" width="4.24" height="4.24" fill="#ffff00"/><rect x="1355.29" y="1575.53" width="12.71" height="4.24" fill="#ffff00"/><rect x="1355.29" y="1579.76" width="12.71" height="4.24" fill="#ffff00"/>
<!-- series 275 (b) -->
<polyline points="252.2,1575.3 283.1,1500.3 315.8,1391.7 348.5,1301.2 381.2,1252.0 413.9,1251.8 446.6,1277.4 479.3,1310.2 512.0,1343.6 544.7,1358.8 577.4,1377.2 610.1,1377.5 642.8,1377.8 675.5,1377.8 708.2,1377.8 740.9,1377.8 773.6,1385.8 806.3,1405.7 839.0,1424.0 871.7,1444.4 904.4,1465.1 937.1,1482.5 969.8,1495.6 1002.5,1508.1 1035.2,1521.1 1067.9,1533.1 1100.6,1542.8 1133.3,1550.2 1166.0,1556.5 1198.7,1560.7 1231.4,1564.9 1264.1,1569.1 1296.8,1571.4 1329.5,1573.2 1361.5,1575.0" stroke="#ff0000" stroke-width="8.47"/>
<rect x="347.29" y="1300.24" width="4.24" height="4.24" fill="#fff"/>
<rect x="381.18" y="1253.65" width="4.24" height="4.24" fill="#fff"/>
<rect x="410.82" y="1253.65" width="4.24" height="4.24" fill="#fff"/>
<rect x="444.71" y="1279.06" width="4.24" height="4.24" fill="#fff"/>
<rect x="478.59" y="1308.71" width="4.24" height="4.24" fill="#fff"/>
<rect x="508.24" y="1342.59" width="4.24" height="4.24" fill="#fff"/>
<rect x="542.12" y="1359.53" width="4.24" height="4.24" fill="#fff"/>
<rect x="576.00" y="1376.47" width="4.24" height="4.24" fill="#fff"/>
<rect x="609.88" y="1376.47" width="4.24" height="4.24" fill="#fff"/>
<rect x="639.53" y="1376.47" width="4.24" height="4.24" fill="#fff"/>
<rect x="673.41" y="1376.47" width="4.24" height="4.24" fill="#fff"/>
<rect x="707.29" y="1376.47" width="4.24" height="4.24" fill="#fff"/>
<rect x="736.94" y="1376.47" width="4.24" height="4.24" fill="#fff"/>
<rect x="770.82" y="1384.94" width="4.24" height="4.24" fill="#fff"/>
<rect x="804.71" y="1406.12" width="4.24" height="4.24" fill="#fff"/>
<rect x="838.59" y="1423.06" width="4.24" height="4.24" fill="#fff"/>
<rect x="868.24" y="1444.24" width="4.24" height="4.24" fill="#fff"/>
<rect x="902.12" y="1465.41" width="4.24" height="4.24" fill="#fff"/>
<rect x="936.00" y="1482.35" width="4.24" height="4.24" fill="#fff"/>
<rect x="965.65" y="1495.06" width="4.24" height="4.24" fill="#fff"/>
<rect x="999.53" y="1507.76" width="4.24" height="4.24" fill="#fff"/>
<rect x="1033.41" y="1520.47" width="4.24" height="4.24" fill="#fff"/>
<rect x="1067.29" y="1533.18" width="4.24" height="4.24" fill="#fff"/>
<rect x="1096.94" y="1541.65" width="4.24" height="4.24" fill="#fff"/>
<rect x="1130.82" y="1550.12" width="4.24" height="4.24" fill="#fff"/>
<rect x="1164.71" y="1554.35" width="4.24" height="4.24" fill="#fff"/>
<rect x="1198.59" y="1558.59" width="4.24" height="4.24" fill="#fff"/>
<rect x="1228.24" y="1562.82" width="4.24" height="4.24" fill="#fff"/>
<rect x="1262.12" y="1567.06" width="4.24" height="4.24" fill="#fff"/>
<rect x="1296.00" y="1571.29" width="4.24" height="4.24" fill="#fff"/>
<rect x="1325.65" y="1571.29" width="4.24" height="4.24" fill="#fff"/>
<!-- series 280 (b) -->
<polyline points="286.1,1584.0 298.3,1518.3 315.8,1427.9 348.5,1341.2 381.2,1301.2 413.9,1296.1 446.6,1316.0 479.3,1343.5 512.0,1366.8 544.7,1383.7 577.4,1386.2 610.1,1386.2 642.8,1386.2 675.5,1386.2 708.2,1386.2 740.9,1386.9 773.6,1400.9 806.3,1416.6 839.0,1436.0 871.7,1453.6 904.4,1471.3 937.1,1486.1 969.8,1499.1 1002.5,1511.9 1035.2,1524.6 1067.9,1536.3 1100.6,1546.1 1133.3,1553.4 1166.0,1559.7 1198.7,1563.8 1231.4,1567.9 1264.1,1572.0 1296.8,1574.2 1329.5,1575.8 1361.5,1577.0" stroke="#ff00ff" stroke-width="8.47"/>
<rect x="347.29" y="1342.59" width="4.24" height="4.24" fill="#fff"/>
<rect x="381.18" y="1300.24" width="4.24" height="4.24" fill="#fff"/>
<rect x="410.82" y="1296.00" width="4.24" height="4.24" fill="#fff"/>
<rect x="444.71" y="1317.18" width="4.24" height="4.24" fill="#fff"/>
<rect x="478.59" y="1342.59" width="4.24" height="4.24" fill="#fff"/>
<rect x="508.24" y="1368.00" width="4.24" height="4.24" fill="#fff"/>
<rect x="542.12" y="1384.94" width="4.24" height="4.24" fill="#fff"/>
<rect x="576.00" y="1384.94" width="4.24" height="4.24" fill="#fff"/>
<rect x="609.88" y="1384.94" width="4.24" height="4.24" fill="#fff"/>
<rect x="639.53" y="1384.94" width="4.24" height="4.24" fill="#fff"/>
<rect x="673.41" y="1384.94" width="4.24" height="4.24" fill="#fff"/>
<rect x="707.29" y="1384.94" width="4.24" height="4.24" fill="#fff"/>
<rect x="736.94" y="1384.94" width="4.24" height="4.24" fill="#fff"/>
<rect x="770.82" y="1401.88" width="4.24" height="4.24" fill="#fff"/>
<rect x="804.71" y="1414.59" width="4.24" height="4.24" fill="#fff"/>
<rect x="838.59" y="1435.76" width="4.24" height="4.24" fill="#fff"/>
<rect x="868.24" y="1452.71" width="4.24" height="4.24" fill="#fff"/>
<rect x="902.12" y="1469.65" width="4.24" height="4.24" fill="#fff"/>
<rect x="936.00" y="1486.59" width="4.24" height="4.24" fill="#fff"/>
<rect x="965.65" y="1499.29" width="4.24" height="4.24" fill="#fff"/>
<rect x="999.53" y="1512.00" width="4.24" height="4.24" fill="#fff"/>
<rect x="1033.41" y="1524.71" width="4.24" height="4.24" fill="#fff"/>
<rect x="1067.29" y="1537.41" width="4.24" height="4.24" fill="#fff"/>
<rect x="1096.94" y="1545.88" width="4.24" height="4.24" fill="#fff"/>
<rect x="1130.82" y="1554.35" width="4.24" height="4.24" fill="#fff"/>
<rect x="1164.71" y="1558.59" width="4.24" height="4.24" fill="#fff"/>
<rect x="1198.59" y="1562.82" width="4.24" height="4.24" fill="#fff"/>
<rect x="1228.24" y="1567.06" width="4.24" height="4.24" fill="#fff"/>
<rect x="1262.12" y="1571.29" width="4.24" height="4.24" fill="#fff"/>
<rect x="1296.00" y="1575.53" width="4.24" height="4.24" fill="#fff"/>
<rect x="1325.65" y="1575.53" width="4.24" height="4.24" fill="#fff"/>
<rect x="576.00" y="1372.24" width="4.24" height="4.24" fill="#ff0"/><rect x="571.76" y="1376.47" width="4.24" height="4.24" fill="#ff0"/><rect x="576.00" y="1376.47" width="4.24" height="4.24" fill="#fff"/><rect x="576.00" y="1380.71" width="8.47" height="4.24" fill="#ff0"/>
<rect x="609.88" y="1372.24" width="4.24" height="4.24" fill="#ff0"/><rect x="605.65" y="1376.47" width="4.24" height="4.24" fill="#ff0"/><rect x="609.88" y="1376.47" width="4.24" height="4.24" fill="#fff"/><rect x="609.88" y="1380.71" width="8.47" height="4.24" fill="#ff0"/>
<rect x="639.53" y="1372.24" width="4.24" height="4.24" fill="#ff0"/><rect x="635.29" y="1376.47" width="4.24" height="4.24" fill="#ff0"/><rect x="639.53" y="1376.47" width="4.24" height="4.24" fill="#fff"/><rect x="639.53" y="1380.71" width="8.47" height="4.24" fill="#ff0"/>
<rect x="673.41" y="1372.24" width="4.24" height="4.24" fill="#ff0"/><rect x="669.18" y="1376.47" width="4.24" height="4.24" fill="#ff0"/><rect x="673.41" y="1376.47" width="4.24" height="4.24" fill="#fff"/><rect x="673.41" y="1380.71" width="8.47" height="4.24" fill="#ff0"/>
<rect x="707.29" y="1372.24" width="4.24" height="4.24" fill="#ff0"/><rect x="703.06" y="1376.47" width="4.24" height="4.24" fill="#ff0"/><rect x="707.29" y="1376.47" width="4.24" height="4.24" fill="#fff"/><rect x="707.29" y="1380.71" width="8.47" height="4.24" fill="#ff0"/>
<rect x="736.94" y="1372.24" width="4.24" height="4.24" fill="#ff0"/><rect x="732.71" y="1376.47" width="4.24" height="4.24" fill="#ff0"/><rect x="736.94" y="1376.47" width="4.24" height="4.24" fill="#fff"/><rect x="736.94" y="1380.71" width="8.47" height="4.24" fill="#ff0"/>
<!-- series 290 (b) -->
<polyline points="448.8,1584.7 452.0,1580.9" stroke="#800080" stroke-width="8.47"/>
<polyline points="457.0,1575.1 469.2,1560.8" stroke="#800080" stroke-width="8.47"/>
<polyline points="484.0,1543.2 496.0,1528.7" stroke="#800080" stroke-width="8.47"/>
<polyline points="515.3,1506.1 544.7,1477.5 554.6,1468.6" stroke="#800080" stroke-width="8.47"/>
<polyline points="573.6,1451.5 577.4,1448.0 591.2,1438.2" stroke="#800080" stroke-width="8.47"/>
<polyline points="614.2,1423.1 642.8,1411.7 644.0,1411.4" stroke="#800080" stroke-width="8.47"/>
<polyline points="647.0,1410.4 662.0,1405.8" stroke="#800080" stroke-width="8.47"/>
<polyline points="693.0,1398.0 707.0,1395.1" stroke="#800080" stroke-width="8.47"/>
<polyline points="749.0,1395.7 773.6,1398.3 776.0,1399.4" stroke="#800080" stroke-width="8.47"/>
<polyline points="812.5,1417.1 826.0,1425.0" stroke="#800080" stroke-width="8.47"/>
<polyline points="850.5,1438.9 868.0,1448.8" stroke="#800080" stroke-width="8.47"/>
<polyline points="877.6,1453.7 899.3,1464.1" stroke="#800080" stroke-width="8.47"/>
<polyline points="926.4,1474.9 937.1,1478.9 944.0,1482.0" stroke="#800080" stroke-width="8.47"/>
<polyline points="972.5,1494.5 997.0,1503.8" stroke="#800080" stroke-width="8.47"/>
<polyline points="1002.7,1506.0 1020.3,1512.6" stroke="#800080" stroke-width="8.47"/>
<polyline points="1048.8,1523.1 1065.0,1529.1" stroke="#800080" stroke-width="8.47"/>
<polyline points="1101.7,1540.1 1128.8,1546.1" stroke="#800080" stroke-width="8.47"/>
<polyline points="1133.0,1547.1 1133.3,1547.2 1142.4,1548.9" stroke="#800080" stroke-width="8.47"/>
<polyline points="1173.6,1554.5 1187.0,1556.2" stroke="#800080" stroke-width="8.47"/>
<polyline points="1231.9,1562.2 1264.1,1567.0 1267.0,1567.2" stroke="#800080" stroke-width="8.47"/>
<polyline points="1299.7,1569.6 1313.2,1570.3" stroke="#800080" stroke-width="8.47"/>
<polyline points="1337.6,1571.7 1352.5,1572.5" stroke="#800080" stroke-width="8.47"/>
<rect x="478.59" y="1550.12" width="4.24" height="4.24" fill="#008080"/>
<rect x="508.24" y="1512.00" width="4.24" height="4.24" fill="#008080"/>
<rect x="542.12" y="1478.12" width="4.24" height="4.24" fill="#008080"/>
<rect x="576.00" y="1448.47" width="4.24" height="4.24" fill="#008080"/>
<rect x="609.88" y="1427.29" width="4.24" height="4.24" fill="#008080"/>
<rect x="639.53" y="1414.59" width="4.24" height="4.24" fill="#008080"/>
<rect x="673.41" y="1401.88" width="4.24" height="4.24" fill="#008080"/>
<rect x="707.29" y="1397.65" width="4.24" height="4.24" fill="#008080"/>
<rect x="736.94" y="1397.65" width="4.24" height="4.24" fill="#008080"/>
<rect x="770.82" y="1397.65" width="4.24" height="4.24" fill="#008080"/>
<rect x="804.71" y="1414.59" width="4.24" height="4.24" fill="#008080"/>
<rect x="838.59" y="1431.53" width="4.24" height="4.24" fill="#008080"/>
<rect x="868.24" y="1452.71" width="4.24" height="4.24" fill="#008080"/>
<rect x="902.12" y="1465.41" width="4.24" height="4.24" fill="#008080"/>
<rect x="936.00" y="1478.12" width="4.24" height="4.24" fill="#008080"/>
<rect x="965.65" y="1495.06" width="4.24" height="4.24" fill="#008080"/>
<rect x="999.53" y="1507.76" width="4.24" height="4.24" fill="#008080"/>
<rect x="1033.41" y="1520.47" width="4.24" height="4.24" fill="#008080"/>
<rect x="1067.29" y="1528.94" width="4.24" height="4.24" fill="#008080"/>
<rect x="1096.94" y="1541.65" width="4.24" height="4.24" fill="#008080"/>
<rect x="1130.82" y="1550.12" width="4.24" height="4.24" fill="#008080"/>
<rect x="1164.71" y="1554.35" width="4.24" height="4.24" fill="#008080"/>
<rect x="1198.59" y="1558.59" width="4.24" height="4.24" fill="#008080"/>
<rect x="1228.24" y="1562.82" width="4.24" height="4.24" fill="#008080"/>
<rect x="1262.12" y="1567.06" width="4.24" height="4.24" fill="#008080"/>
<rect x="1296.00" y="1571.29" width="4.24" height="4.24" fill="#008080"/>
<rect x="1325.65" y="1571.29" width="4.24" height="4.24" fill="#008080"/>
<!-- series 295 (b) -->
<rect x="249.88" y="1584.00" width="177.88" height="8.47" fill="#808080"/>
<polyline points="424.0,1581.5 452.0,1579.1 479.3,1573.5 512.0,1564.0 544.7,1548.2 577.4,1536.6 610.1,1527.2 642.8,1517.6 675.5,1509.9 708.2,1504.8 740.9,1503.7 773.6,1509.9 806.3,1517.1 839.0,1524.3 871.7,1530.9 904.4,1537.9 937.1,1544.8 969.8,1550.1 1002.5,1555.1 1035.2,1559.5 1067.9,1564.1 1100.6,1569.0 1133.3,1572.7 1166.0,1575.8 1198.7,1578.3 1231.4,1580.0 1264.1,1580.6 1296.8,1581.3 1329.5,1581.9 1361.5,1583.0" stroke="#808080" stroke-width="8.47"/>
<rect x="249.88" y="1584.00" width="8.47" height="8.47" fill="#fff"/>
<rect x="279.53" y="1584.00" width="8.47" height="8.47" fill="#fff"/>
<rect x="317.65" y="1584.00" width="8.47" height="8.47" fill="#fff"/>
<rect x="347.29" y="1584.00" width="8.47" height="8.47" fill="#fff"/>
<rect x="376.94" y="1584.00" width="8.47" height="8.47" fill="#fff"/>
<rect x="410.82" y="1584.00" width="8.47" height="8.47" fill="#fff"/>
<rect x="448.94" y="1571.29" width="8.47" height="12.71" fill="#ffffff"/>
<rect x="482.82" y="1567.06" width="8.47" height="12.71" fill="#ffffff"/>
<rect x="516.71" y="1554.35" width="8.47" height="12.71" fill="#ffffff"/>
<rect x="550.59" y="1541.65" width="8.47" height="12.71" fill="#ffffff"/>
<rect x="580.24" y="1528.94" width="8.47" height="12.71" fill="#ffffff"/>
<rect x="614.12" y="1520.47" width="8.47" height="12.71" fill="#ffffff"/>
<rect x="648.00" y="1507.76" width="8.47" height="12.71" fill="#ffffff"/>
<rect x="681.88" y="1503.53" width="8.47" height="12.71" fill="#ffffff"/>
<rect x="715.76" y="1499.29" width="4.24" height="12.71" fill="#ffffff"/>
<rect x="749.65" y="1499.29" width="4.24" height="12.71" fill="#ffffff"/>
<rect x="783.53" y="1507.76" width="4.24" height="12.71" fill="#ffffff"/>
<rect x="817.41" y="1512.00" width="4.24" height="12.71" fill="#ffffff"/>
<rect x="851.29" y="1520.47" width="4.24" height="12.71" fill="#ffffff"/>
<rect x="880.94" y="1528.94" width="4.24" height="12.71" fill="#ffffff"/>
<rect x="914.82" y="1533.18" width="4.24" height="12.71" fill="#ffffff"/>
<rect x="948.71" y="1541.65" width="4.24" height="12.71" fill="#ffffff"/>
<rect x="982.59" y="1545.88" width="4.24" height="12.71" fill="#ffffff"/>
<rect x="1016.47" y="1550.12" width="4.24" height="12.71" fill="#ffffff"/>
<rect x="1050.35" y="1554.35" width="4.24" height="12.71" fill="#ffffff"/>
<rect x="1084.24" y="1558.59" width="4.24" height="12.71" fill="#ffffff"/>
<rect x="1118.12" y="1562.82" width="4.24" height="12.71" fill="#ffffff"/>
<rect x="1152.00" y="1567.06" width="4.24" height="12.71" fill="#ffffff"/>
<rect x="1181.65" y="1571.29" width="4.24" height="12.71" fill="#ffffff"/>
<rect x="1215.53" y="1571.29" width="4.24" height="12.71" fill="#ffffff"/>
<rect x="1249.41" y="1575.53" width="4.24" height="8.47" fill="#ffffff"/>
<rect x="1283.29" y="1575.53" width="4.24" height="8.47" fill="#ffffff"/>
<rect x="1317.18" y="1575.53" width="4.24" height="8.47" fill="#ffffff"/>
<rect x="1351.06" y="1575.53" width="4.24" height="8.47" fill="#ffffff"/>
<!-- legend (b) -->
<rect x="1147.76" y="1033.41" width="46.59" height="8.47" fill="#00ff00"/>
<rect x="1228.24" y="1033.41" width="38.12" height="8.47" fill="#00ff00"/>
<rect x="1207.06" y="1037.65" width="4.24" height="4.24" fill="#000080"/>
<rect x="1147.76" y="1113.88" width="55.06" height="8.47" fill="#009966"/>
<rect x="1215.53" y="1113.88" width="59.29" height="8.47" fill="#009966"/>
<rect x="1147.76" y="1113.88" width="4.24" height="4.24" fill="#fff"/>
<rect x="1147.76" y="1190.12" width="127.06" height="8.47" fill="#000000"/>
<rect x="1147.76" y="1190.12" width="4.24" height="4.24" fill="#fff"/>
<rect x="1207.06" y="1190.12" width="4.24" height="4.24" fill="#ff0"/><rect x="1202.82" y="1198.59" width="12.71" height="4.24" fill="#ff0"/>
<rect x="1147.76" y="1266.35" width="127.06" height="8.47" fill="#ff0000"/>
<rect x="1147.76" y="1266.35" width="4.24" height="4.24" fill="#fff"/>
<rect x="1207.06" y="1270.59" width="4.24" height="4.24" fill="#fff"/>
<rect x="1147.76" y="1346.82" width="127.06" height="8.47" fill="#ff00ff"/>
<rect x="1147.76" y="1346.82" width="4.24" height="4.24" fill="#fff"/>
<rect x="1207.06" y="1351.06" width="4.24" height="4.24" fill="#fff"/>
<rect x="1147.76" y="1423.06" width="46.59" height="8.47" fill="#800080"/>
<rect x="1228.24" y="1423.06" width="12.71" height="8.47" fill="#800080"/>
<rect x="1207.06" y="1427.29" width="4.24" height="4.24" fill="#008080"/>
<rect x="1147.76" y="1499.29" width="127.06" height="8.47" fill="#808080"/>
<rect x="1147.76" y="1499.29" width="4.24" height="4.24" fill="#fff"/>
<rect x="1207.06" y="1503.53" width="4.24" height="4.24" fill="#fff"/>
</g>
<g class="ct" filter="url(#soft)">
<use href="#labels" fill="#ffff00" transform="translate(-2.1,0)"/>
<use href="#labels" fill="#ff00ff" class="m"/>
<use href="#labels" fill="#00ffff" class="m" transform="translate(2.1,0)"/>
</g>
</g>
<rect x="24.2" y="25.4" width="1425.6" height="905.7" fill="none" stroke="#000" stroke-width="4.4"/>
<rect x="24" y="1003.2" width="1425.8" height="833.8" fill="none" stroke="#000" stroke-width="4.4"/>
</svg>
</body></html>
